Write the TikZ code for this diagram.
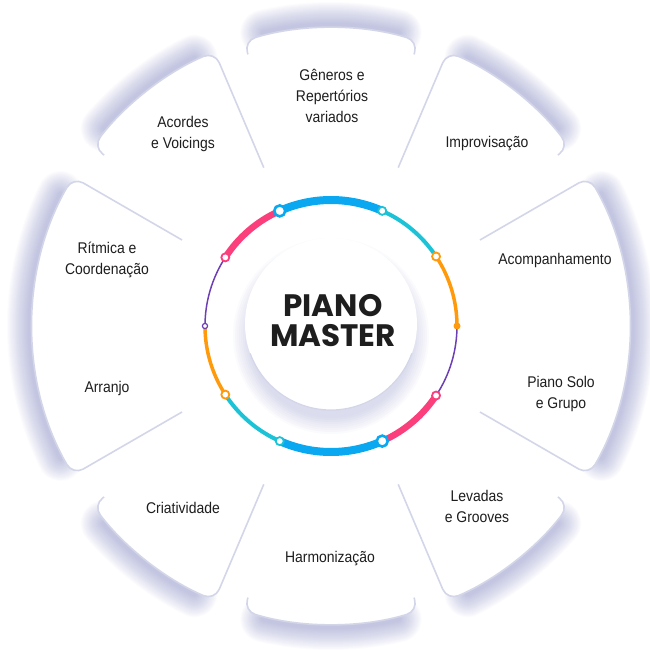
\documentclass[tikz,border=0pt]{standalone}
\usepackage{fontspec}
\newfontfamily\lblfont[FakeStretch=0.9]{Liberation Sans}
\newfontfamily\titlefont{Poppins}
\definecolor{glow}{HTML}{6C72B5}
\definecolor{edge}{HTML}{D3D6E8}
\definecolor{rblue}{HTML}{0BA8F2}
\definecolor{rcyan}{HTML}{1CC3D7}
\definecolor{rorange}{HTML}{FF9A0C}
\definecolor{rpurple}{HTML}{6C3FB4}
\definecolor{rpink}{HTML}{FA3F7C}
\definecolor{ink}{HTML}{1E1E1E}

\begin{document}
\begin{tikzpicture}[
    lbl/.style={font=\lblfont\fontsize{15.5pt}{21pt}\selectfont, text=ink, align=center},
    title/.style={font=\titlefont\bfseries\fontsize{31pt}{30pt}\selectfont, text=ink, align=center},
    ringdot/.style={fill=white, line width=1.8pt},
    bigdot/.style={fill=white, line width=2.6pt},
  ]
    \useasboundingbox (-331pt,-324pt) rectangle (319pt,326pt);

    \foreach \a/\b in {73/107, 37/67, 113/143, -30/30, 150/210, -67/-37, 217/247, 253/287}
        \foreach \w in {4,6,...,46}
            \draw[glow, line width=\w pt, opacity=0.022, line cap=round]
                ({\a+4}:301pt) arc[start angle=\a+4, end angle=\b-4, radius=301pt];
    \foreach \a/\b/\ra/\rb in {73/107/284/284, 37/67/284/172, 113/143/172/284, -30/30/172/172,
                                150/210/172/172, -67/-37/172/284, 217/247/284/172, 253/287/284/284} {
        \fill[white, rounded corners=12pt] (\a:170pt) -- (\a:298pt)
            arc[start angle=\a, end angle=\b, radius=298pt] -- (\b:170pt)
            arc[start angle=\b, end angle=\a, radius=170pt] -- cycle;
        \draw[edge, line width=1.6pt, rounded corners=12pt] (\a:\ra pt) -- (\a:298pt)
            arc[start angle=\a, end angle=\b, radius=298pt] -- (\b:\rb pt);
    }

    \foreach \r in {82,84,...,98}
        \fill[glow, opacity=0.03] (0pt,-10pt) circle[radius=\r pt];
    \fill[white] (0pt,2pt) circle[radius=86pt];
    \draw[edge, line width=1.2pt] (200:86pt) ++(0pt,2pt) arc[start angle=200, end angle=340, radius=86pt];

    \draw[rblue, line width=8pt] (114:126pt) arc[start angle=114, end angle=66, radius=126pt];
    \draw[rcyan, line width=4pt] (66:126pt) arc[start angle=66, end angle=33.5, radius=126pt];
    \draw[rorange, line width=3.5pt] (33.5:126pt) arc[start angle=33.5, end angle=0, radius=126pt];
    \draw[rpurple, line width=1.5pt] (0:126pt) arc[start angle=0, end angle=-33.5, radius=126pt];
    \draw[rpink, line width=6.5pt] (-33.5:126pt) arc[start angle=-33.5, end angle=-66, radius=126pt];
    \draw[rblue, line width=8pt] (-66:126pt) arc[start angle=-66, end angle=-114, radius=126pt];
    \draw[rcyan, line width=4pt] (-114:126pt) arc[start angle=-114, end angle=-147, radius=126pt];
    \draw[rorange, line width=3.5pt] (-147:126pt) arc[start angle=-147, end angle=-180, radius=126pt];
    \draw[rpurple, line width=1.5pt] (180:126pt) arc[start angle=180, end angle=147, radius=126pt];
    \draw[rpink, line width=6.5pt] (147:126pt) arc[start angle=147, end angle=114, radius=126pt];

    \draw[bigdot, draw=rblue] (114:126pt) circle[radius=5.5pt];
    \draw[bigdot, draw=rblue] (-66:126pt) circle[radius=5.5pt];
    \draw[ringdot, draw=rcyan] (66:126pt) circle[radius=4pt];
    \draw[ringdot, draw=rcyan] (-114:126pt) circle[radius=4pt];
    \draw[ringdot, draw=rorange] (33.5:126pt) circle[radius=4pt];
    \draw[ringdot, draw=rorange] (-147:126pt) circle[radius=4pt];
    \draw[ringdot, draw=rpink] (-33.5:126pt) circle[radius=4pt];
    \draw[ringdot, draw=rpink] (147:126pt) circle[radius=4pt];
    \fill[rorange] (0:126pt) circle[radius=3.5pt];
    \draw[draw=rpurple, fill=white, line width=1.2pt] (180:126pt) circle[radius=2.6pt];

    \node[title] (pm) at (2pt,5pt) {PIANO\\MASTER};

    \node[lbl] (gen) at (1pt,230pt) {Gêneros e\\Repertórios\\variados};
    \node[lbl] (acd) at (-148pt,192pt) {Acordes\\e Voicings};
    \node[lbl] (imp) at (156pt,182pt) {Improvisação};
    \node[lbl] (rit) at (-224pt,66pt) {Rítmica e\\Coordenação};
    \node[lbl] (acp) at (224pt,66pt) {Acompanhamento};
    \node[lbl] (arr) at ([yshift=-128pt]rit) {Arranjo};
    \node[lbl] (pso) at (230pt,-68pt) {Piano Solo\\e Grupo};
    \node[lbl] (cri) at (-148pt,-182pt) {Criatividade};
    \node[lbl] (har) at (-1pt,-233pt) {Harmonização};
    \node[lbl] (lev) at (146pt,-180pt) {Levadas\\e Grooves};
\end{tikzpicture}
\end{document}
